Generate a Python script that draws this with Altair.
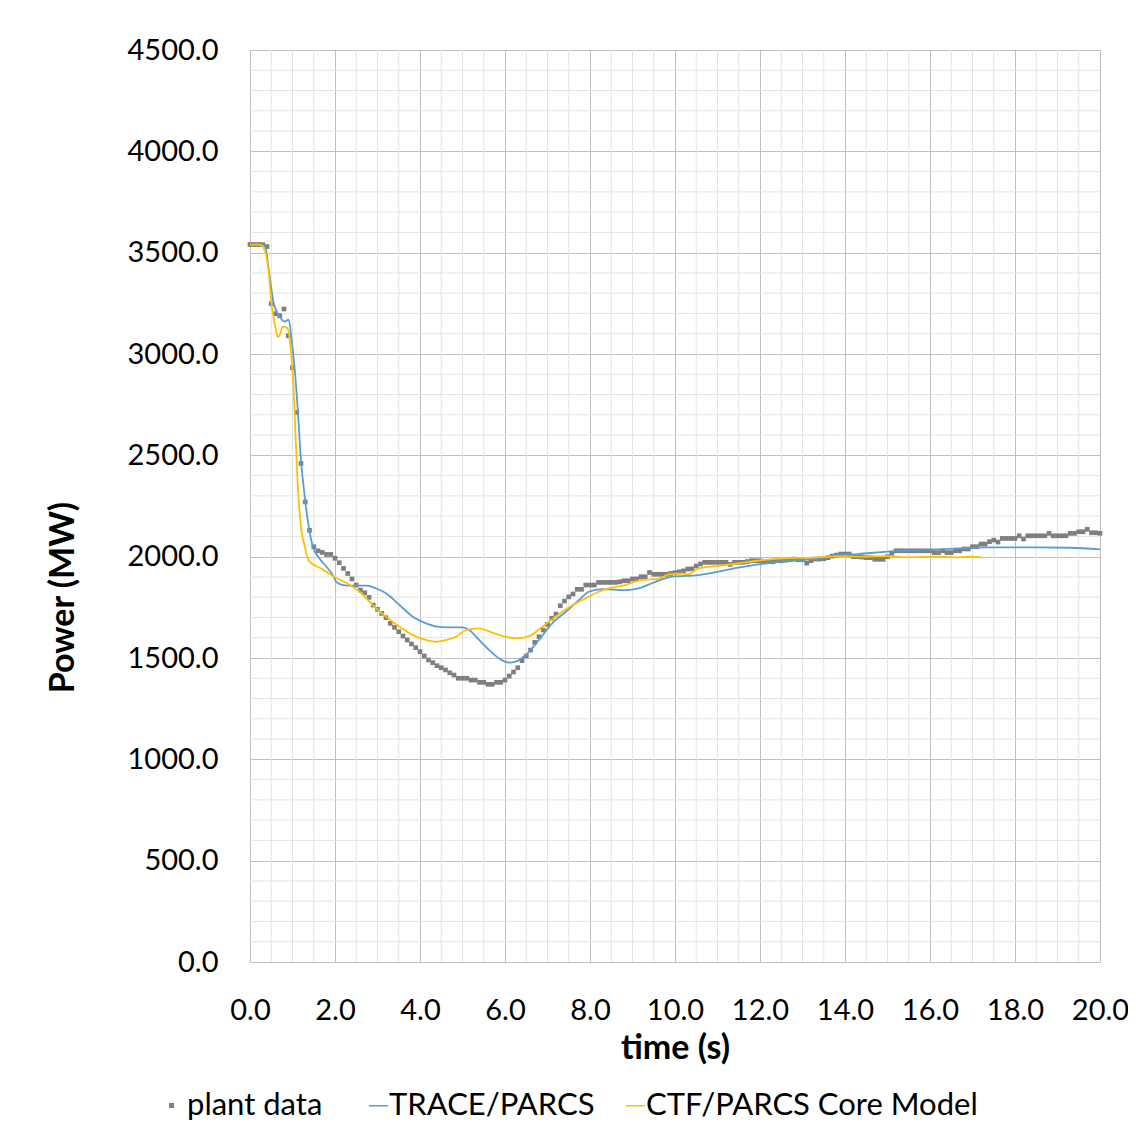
import altair as alt
import pandas as pd

# ---------------- data ----------------
plant_t = [0.0, 0.1, 0.2, 0.3, 0.4, 0.5, 0.6, 0.7, 0.8, 0.9,
           1.0, 1.1, 1.2, 1.3, 1.4, 1.5, 1.6, 1.7, 1.8, 1.9,
           2.0, 2.1, 2.2, 2.3, 2.4, 2.5, 2.6, 2.7, 2.8, 2.9,
           3.0, 3.1, 3.2, 3.3, 3.4, 3.5, 3.6, 3.7, 3.8, 3.9,
           4.0, 4.1, 4.2, 4.3, 4.4, 4.5, 4.6, 4.7, 4.8, 4.9,
           5.0, 5.1, 5.2, 5.3, 5.4, 5.5, 5.6, 5.7, 5.8, 5.9,
           6.0, 6.1, 6.2, 6.3, 6.4, 6.5, 6.6, 6.7, 6.8, 6.9,
           7.0, 7.1, 7.2, 7.3, 7.4, 7.5, 7.6, 7.7, 7.8, 7.9,
           8.0, 8.1, 8.2, 8.3, 8.4, 8.5, 8.6, 8.7, 8.8, 8.9,
           9.0, 9.1, 9.2, 9.3, 9.4, 9.5, 9.6, 9.7, 9.8, 9.9,
           10.0, 10.1, 10.2, 10.3, 10.4, 10.5, 10.6, 10.7, 10.8, 10.9,
           11.0, 11.1, 11.2, 11.3, 11.4, 11.5, 11.6, 11.7, 11.8, 11.9,
           12.0, 12.1, 12.2, 12.3, 12.4, 12.5, 12.6, 12.7, 12.8, 12.9,
           13.0, 13.1, 13.2, 13.3, 13.4, 13.5, 13.6, 13.7, 13.8, 13.9,
           14.0, 14.1, 14.2, 14.3, 14.4, 14.5, 14.6, 14.7, 14.8, 14.9,
           15.0, 15.1, 15.2, 15.3, 15.4, 15.5, 15.6, 15.7, 15.8, 15.9,
           16.0, 16.1, 16.2, 16.3, 16.4, 16.5, 16.6, 16.7, 16.8, 16.9,
           17.0, 17.1, 17.2, 17.3, 17.4, 17.5, 17.6, 17.7, 17.8, 17.9,
           18.0, 18.1, 18.2, 18.3, 18.4, 18.5, 18.6, 18.7, 18.8, 18.9,
           19.0, 19.1, 19.2, 19.3, 19.4, 19.5, 19.6, 19.7, 19.8, 19.9,
           20.0]
plant_p = [3540, 3540, 3540, 3540, 3530, 3248, 3199, 3189, 3222, 3090,
           2932, 2712, 2460, 2270, 2130, 2049, 2029, 2021, 2011, 2011,
           1992, 1970, 1942, 1917, 1890, 1860, 1835, 1822, 1799, 1761,
           1740, 1720, 1699, 1671, 1651, 1630, 1608, 1589, 1569, 1551,
           1531, 1510, 1490, 1477, 1462, 1452, 1441, 1427, 1416, 1400,
           1400, 1400, 1391, 1391, 1380, 1380, 1370, 1370, 1380, 1380,
           1391, 1411, 1431, 1452, 1487, 1510, 1539, 1577, 1605, 1638,
           1666, 1696, 1717, 1758, 1781, 1802, 1816, 1839, 1839, 1860,
           1860, 1860, 1873, 1873, 1873, 1873, 1873, 1876, 1881, 1881,
           1890, 1890, 1901, 1901, 1922, 1913, 1913, 1913, 1913, 1917,
           1921, 1925, 1930, 1939, 1940, 1954, 1964, 1972, 1972, 1972,
           1972, 1972, 1972, 1962, 1972, 1972, 1972, 1976, 1980, 1980,
           1980, 1975, 1975, 1975, 1980, 1980, 1982, 1985, 1988, 1985,
           1985, 1968, 1980, 1988, 1988, 1990, 1995, 2003, 2008, 2013,
           2013, 2013, 2000, 2000, 1998, 1995, 1995, 1987, 1987, 1987,
           2000, 2017, 2029, 2029, 2029, 2029, 2029, 2029, 2029, 2029,
           2029, 2020, 2020, 2029, 2020, 2020, 2029, 2029, 2038, 2038,
           2049, 2049, 2062, 2062, 2074, 2082, 2072, 2090, 2090, 2090,
           2090, 2103, 2087, 2103, 2103, 2103, 2103, 2103, 2115, 2103,
           2103, 2103, 2103, 2115, 2115, 2123, 2123, 2135, 2118, 2118,
           2115]

trace_t = [0.0, 0.35, 0.45, 0.55, 0.70, 0.82, 0.91, 0.98, 1.06, 1.13,
           1.19, 1.27, 1.37, 1.48, 1.64, 1.80, 1.95, 2.03, 2.19, 2.42,
           2.74, 2.97, 3.20, 3.52, 3.83, 4.14, 4.45, 4.77, 5.00, 5.16,
           5.39, 5.63, 5.86, 6.10, 6.25, 6.49, 6.80, 7.11, 7.43, 7.74,
           7.97, 8.28, 8.83, 9.14, 9.54, 9.93, 10.55, 11.02, 11.49, 11.96,
           12.43, 12.90, 13.52, 13.83, 14.30, 15.00, 16.18, 17.35, 18.52, 19.30,
           20.00]
trace_p = [3540, 3538, 3400, 3258, 3184, 3160, 3170, 3069, 2905, 2707,
           2501, 2329, 2164, 2049, 1990, 1950, 1909, 1876, 1860, 1857,
           1857, 1843, 1819, 1761, 1704, 1671, 1654, 1651, 1651, 1638,
           1589, 1539, 1498, 1477, 1482, 1515, 1589, 1671, 1728, 1786,
           1827, 1840, 1835, 1843, 1876, 1901, 1909, 1926, 1946, 1962,
           1975, 1983, 1995, 2008, 2013, 2025, 2036, 2046, 2046, 2044,
           2036]

ctf_t = [0.0, 0.25, 0.31, 0.43, 0.51, 0.59, 0.65, 0.70, 0.77, 0.86,
         0.91, 0.95, 1.02, 1.06, 1.11, 1.19, 1.29, 1.37, 1.50, 1.64,
         1.80, 1.99, 2.27, 2.58, 2.89, 3.20, 3.52, 3.83, 4.14, 4.38,
         4.61, 4.85, 5.08, 5.39, 5.70, 6.02, 6.25, 6.57, 6.88, 7.19,
         7.58, 7.89, 8.21, 8.44, 8.83, 9.22, 9.61, 9.85, 10.16, 10.32,
         10.55, 11.02, 11.49, 12.11, 12.58, 13.21, 13.99, 14.30, 15.00, 15.40,
         16.18, 16.65, 16.96, 17.23]
ctf_p = [3540, 3540, 3529, 3423, 3242, 3143, 3085, 3094, 3135, 3130,
         3110, 3040, 2855, 2658, 2411, 2164, 2049, 1985, 1960, 1945,
         1925, 1900, 1870, 1827, 1761, 1704, 1654, 1613, 1589, 1580,
         1589, 1605, 1638, 1646, 1625, 1605, 1597, 1608, 1654, 1704,
         1760, 1794, 1827, 1843, 1860, 1886, 1890, 1913, 1917, 1914,
         1942, 1955, 1967, 1984, 1992, 1995, 2003, 2000, 2003, 1997,
         2000, 1997, 2000, 1997]

point_names = ["plant data"]
point_colors = ["#7f7f7f"]
line_names = ["TRACE/PARCS", "CTF/PARCS Core Model"]
line_colors = ["#5b9bd5", "#ffc000"]

x_major = [0, 2, 4, 6, 8, 10, 12, 14, 16, 18, 20]
y_major = [0, 500, 1000, 1500, 2000, 2500, 3000, 3500, 4000, 4500]
x_minor = [v / 2 for v in range(0, 41) if v % 4 != 0]
y_minor = [v for v in range(0, 4501, 100) if v % 500 != 0]

# ---------------- frames ----------------
df_plant = pd.DataFrame({"t": plant_t, "p": plant_p, "series": "plant data"})
df_lines = pd.concat([
    pd.DataFrame({"t": trace_t, "p": trace_p, "series": "TRACE/PARCS"}),
    pd.DataFrame({"t": ctf_t, "p": ctf_p, "series": "CTF/PARCS Core Model"}),
])
df_xminor = pd.DataFrame({"x": x_minor})
df_yminor = pd.DataFrame({"y": y_minor})

FONT = "Lato"
W, H = 850, 912

x_scale = alt.Scale(domain=[0, 20], nice=False, zero=False)
y_scale = alt.Scale(domain=[0, 4500], nice=False)

x_axis = alt.Axis(values=x_major, format=".1f", title="time (s)",
                  grid=True, gridColor="#bfbfbf", gridWidth=1,
                  domain=False, ticks=False, tickSize=0,
                  labelFont=FONT, labelFontSize=29, labelColor="#000000",
                  labelBaseline="alphabetic", labelPadding=57,
                  labelOverlap=False, labelFlush=False,
                  titleFont=FONT, titleFontSize=34, titleFontWeight="bold",
                  titleColor="#000000", titleBaseline="alphabetic", titleY=96)
y_axis = alt.Axis(values=y_major, format=".1f", title="Power (MW)",
                  grid=True, gridColor="#bfbfbf", gridWidth=1,
                  domain=False, ticks=False, tickSize=0,
                  labelFont=FONT, labelFontSize=29, labelColor="#000000",
                  labelPadding=32, labelOverlap=False, labelFlush=False,
                  titleFont=FONT, titleFontSize=34, titleFontWeight="bold",
                  titleColor="#000000", titleAngle=270, titleAlign="center",
                  titleBaseline="middle", titleX=-187, titleY=547)

point_legend = alt.Legend(
    orient="none", legendX=-94, legendY=1040, direction="horizontal",
    title=None, labelFont=FONT, labelFontSize=31, labelColor="#000000",
    labelLimit=600, symbolType="square", symbolSize=25, labelOffset=0,
    symbolStrokeWidth=0, symbolOpacity=1,
)
line_legend = alt.Legend(
    orient="none", legendX=113, legendY=1040, direction="horizontal",
    title=None, labelFont=FONT, labelFontSize=31, labelColor="#000000",
    labelLimit=600, symbolType="stroke", symbolSize=361, symbolStrokeWidth=1.5,
    labelOffset={"expr": "-5"}, columnPadding=25,
)

minor_x = alt.Chart(df_xminor).mark_rule(color="#e3e3e3", strokeWidth=1).encode(
    x=alt.X("x:Q", scale=x_scale, axis=x_axis))
minor_y = alt.Chart(df_yminor).mark_rule(color="#e3e3e3", strokeWidth=1).encode(
    y=alt.Y("y:Q", scale=y_scale, axis=y_axis))

points = alt.Chart(df_plant).mark_square(size=22, opacity=1).encode(
    x=alt.X("t:Q", scale=x_scale, axis=x_axis),
    y=alt.Y("p:Q", scale=y_scale, axis=y_axis),
    color=alt.Color("series:N", scale=alt.Scale(domain=point_names, range=point_colors),
                    legend=point_legend),
)

lines = alt.Chart(df_lines).mark_line(strokeWidth=1.8, interpolate="monotone").encode(
    x=alt.X("t:Q", scale=x_scale, axis=x_axis),
    y=alt.Y("p:Q", scale=y_scale, axis=y_axis),
    stroke=alt.Stroke("series:N", scale=alt.Scale(domain=line_names, range=line_colors),
                      legend=line_legend),
    detail="series:N",
)

chart = alt.layer(minor_x, minor_y, points, lines).properties(
    width=W, height=H,
    autosize=alt.AutoSizeParams(type="none"),
    padding={"left": 242, "top": 42, "right": 28, "bottom": 165},
).configure_view(stroke=None).configure(background="white")

chart.save("out.html", embed_options={"renderer": "svg", "actions": False})
